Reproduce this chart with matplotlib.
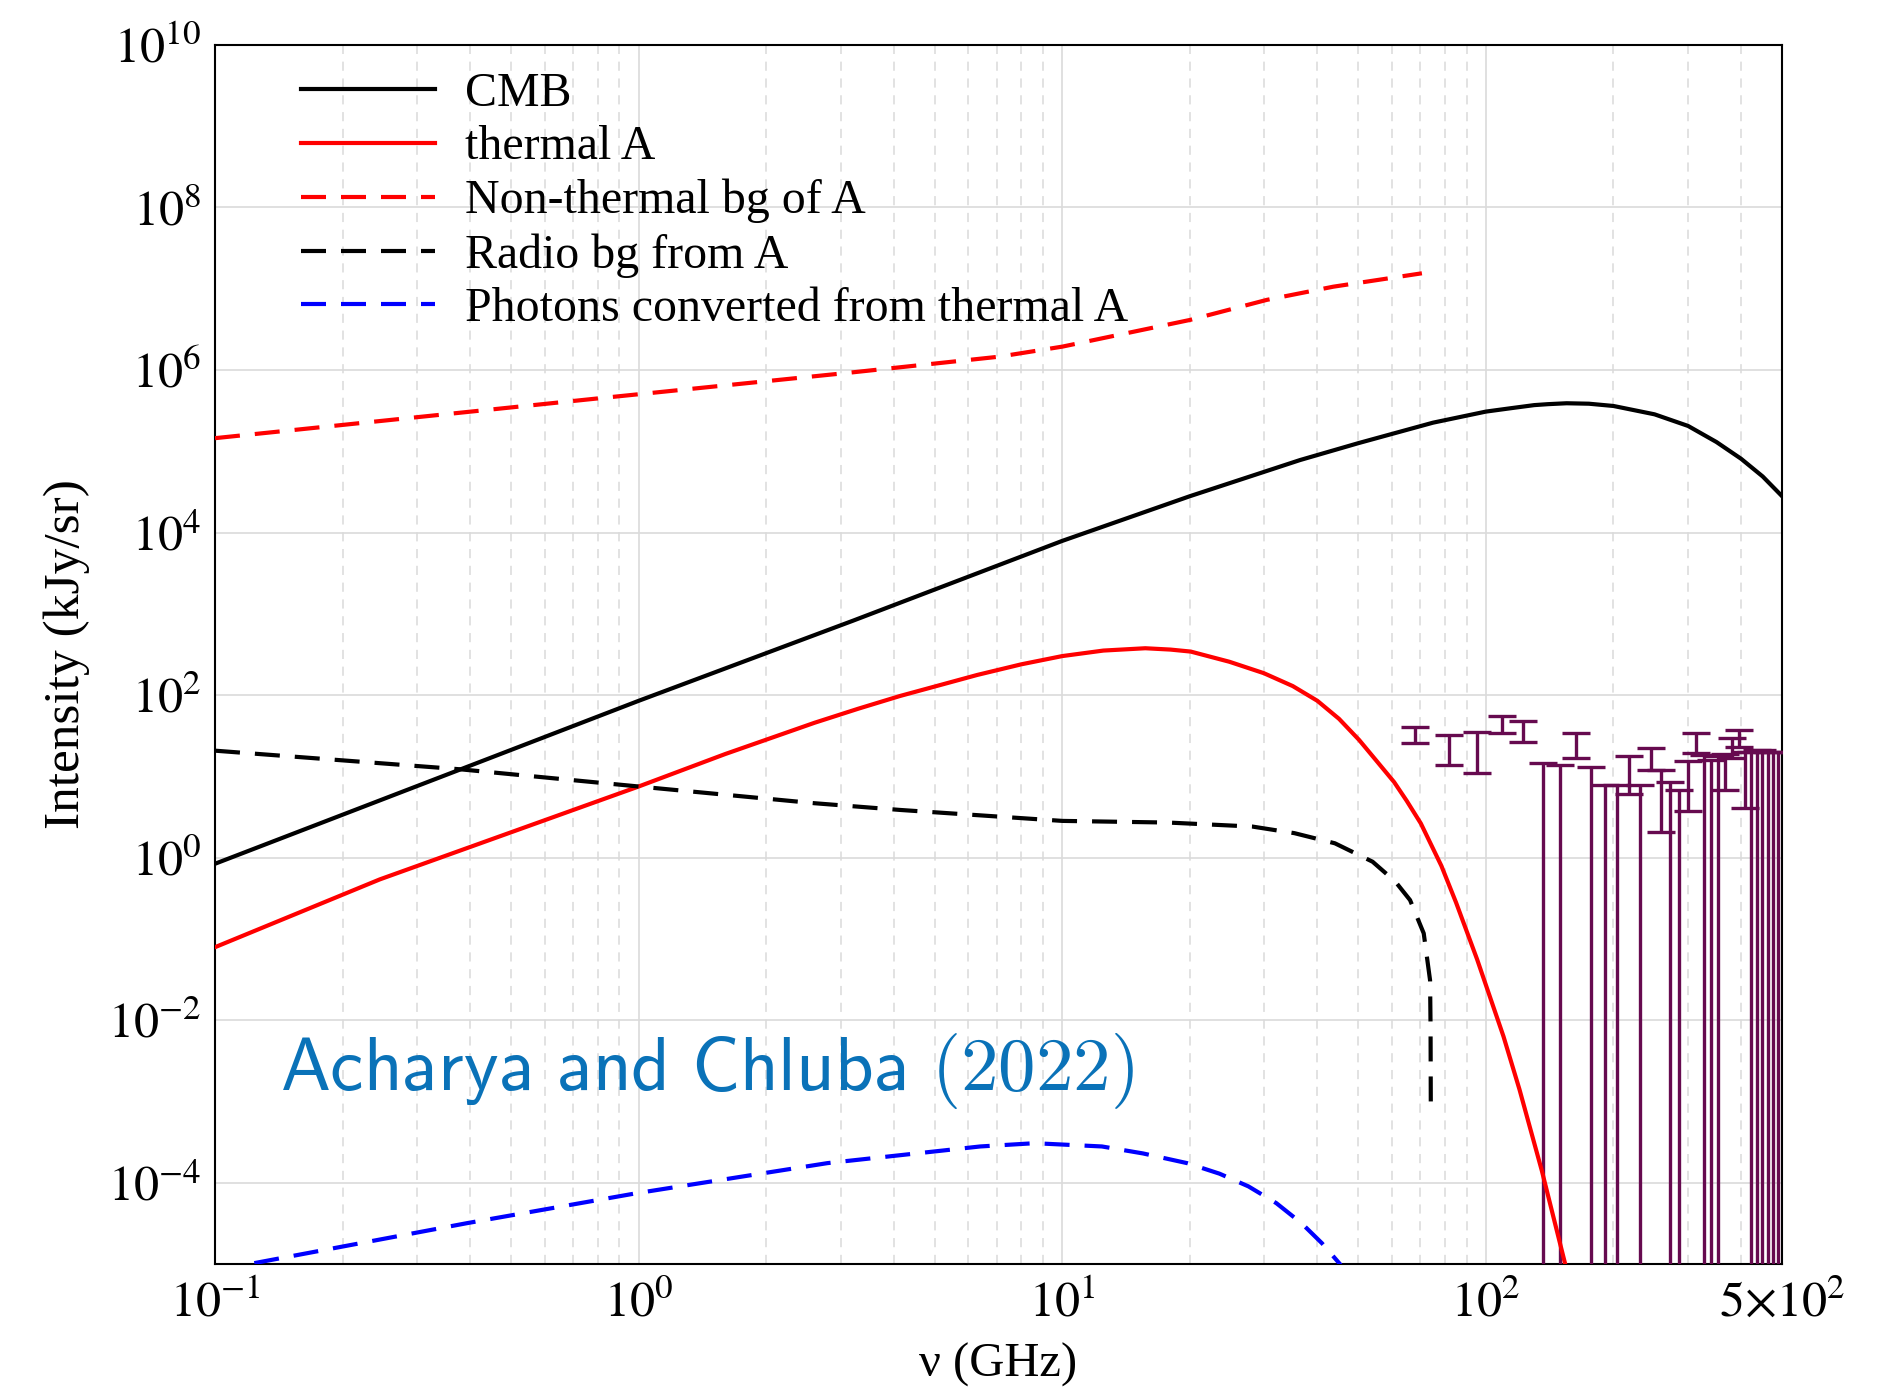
import numpy as np
import matplotlib
matplotlib.use("Agg")
import matplotlib.pyplot as plt
from matplotlib.ticker import FixedLocator, FixedFormatter, NullLocator

# ---- curves (nu in GHz, intensity in kJy/sr) ----
nu_cmb = [0.1, 0.38, 1.0, 3.2, 10, 20, 36.4, 50, 75, 100, 115, 130, 140, 155, 175, 200,
          250, 300, 350, 400, 450, 500]
I_cmb = [0.84, 12.2, 85, 820, 7900, 2.8e4, 7.8e4, 1.26e5, 2.25e5, 3.08e5, 3.4e5, 3.7e5,
         3.8e5, 3.9e5, 3.85e5, 3.61e5, 2.85e5, 2.05e5, 1.3e5, 8.1e4, 4.9e4, 2.8e4]

nu_th = [0.1, 0.245, 1.0, 1.6, 2.6, 3.3, 4.14, 6.3, 8, 10, 12.5, 15.7, 18, 20.1, 24.8,
         29.9, 35, 40, 45, 50.2, 55, 60.7, 65, 70.2, 78.5, 85, 95.3, 110, 120, 135.5,
         153.8, 158.5]
I_th = [0.079, 0.54, 7.5, 18.8, 45.6, 68, 97.5, 177, 239, 302, 353, 377, 363, 343, 257,
        186, 129, 85, 51, 28, 15.8, 8.5, 5.0, 2.63, 0.79, 0.28, 0.056, 6.3e-3, 1.4e-3, 1.4e-4,
        1e-5, 5e-6]

nu_nth = [0.1, 0.81, 3.16, 7.1, 10, 20, 30.4, 43.6, 70.6]
I_nth = [1.45e5, 4.5e5, 9.3e5, 1.46e6, 1.94e6, 4.13e6, 7.3e6, 1.06e7, 1.55e7]

nu_radio = [0.1, 0.38, 1.0, 2.6, 4.14, 10, 17.8, 28.1, 35.3, 44, 54, 61.1, 66.2,
            71.3, 73.8, 74.0, 74.1]
I_radio = [20.7, 12.2, 7.5, 4.67, 3.86, 2.83, 2.70, 2.41, 2.0, 1.50, 0.89, 0.507, 0.30,
           0.117, 0.031, 0.0083, 8.3e-4]

nu_conv = [0.1, 0.394, 0.986, 2.79, 6.4, 8.6, 12.4, 15.5, 19.7, 23.5, 27.5, 32, 36.7,
           41, 45.2, 46.8]
I_conv = [8.3e-6, 3.18e-5, 7.4e-5, 1.74e-4, 2.79e-4, 3.06e-4, 2.79e-4, 2.29e-4, 1.74e-4,
          1.29e-4, 9.0e-5, 5.6e-5, 3.17e-5, 1.8e-5, 1e-5, 7e-6]

# ---- data points with error bars (top / bottom of each bar, 0 = runs off the axis) ----
fir_nu = [68.05, 81.65, 95.26, 108.87, 122.47, 136.08, 149.68, 163.29, 176.9, 190.5,
          204.1, 217.7, 231.3, 244.9, 258.5, 272.2, 285.8, 299.4, 313.0, 326.6,
          340.2, 353.8, 367.4, 381.0, 394.6, 408.2, 421.8, 435.4, 449.0, 462.6,
          476.2, 489.8]
fir_hi = [40.2, 32.4, 34.9, 55.8, 48.5, 14.6, 13.8, 34.4, 12.9, 7.9,
          7.9, 18.0, 7.9, 22.2, 12.0, 8.5, 6.8, 15.5, 34.5, 18.2,
          15.8, 17.8, 19.1, 29.5, 37.2, 20.0, 20.0, 21.0, 21.0, 20.0,
          20.0, 20.0]
fir_lo = [25.6, 13.8, 10.9, 33.9, 26.3, 0, 0, 16.9, 0, 0,
          0, 6.0, 0, 12.0, 2.06, 0, 0, 3.7, 19.3, 0,
          0, 0, 6.8, 16.6, 23.2, 4.06, 0, 0, 0, 0,
          0, 0]

xticks = [0.1, 1, 10, 100, 500]
xticklabels = [r"$10^{-1}$", r"$10^{0}$", r"$10^{1}$", r"$10^{2}$", r"$5{\times}10^{2}$"]
yticks = [1e-4, 1e-2, 1, 1e2, 1e4, 1e6, 1e8, 1e10]
yticklabels = [r"$10^{-4}$", r"$10^{-2}$", r"$10^{0}$", r"$10^{2}$", r"$10^{4}$",
               r"$10^{6}$", r"$10^{8}$", r"$10^{10}$"]

plt.rcParams["font.family"] = ["Liberation Serif", "DejaVu Serif"]
plt.rcParams["mathtext.fontset"] = "stix"

fig = plt.figure(figsize=(18.91, 13.92), dpi=100)
ax = fig.add_axes([0.1137, 0.092, 0.8287, 0.8757])
ax.set_xscale("log")
ax.set_yscale("log")

lw = 3.0
dash = (6, 3.6)

# error bars first so the curves sit on top
hi = np.array(fir_hi)
lo = np.array(fir_lo)
ax.errorbar(fir_nu, hi, yerr=[hi - lo, np.zeros_like(hi)], fmt="none",
            ecolor="#660a4f", elinewidth=2.4, capsize=10, capthick=2.4, zorder=3)

ax.plot(nu_cmb, I_cmb, color="black", lw=lw, label="CMB", zorder=4)
ax.plot(nu_th, I_th, color="red", lw=lw, label="thermal A", zorder=4)
ax.plot(nu_nth, I_nth, color="red", lw=lw, dashes=dash, label="Non-thermal bg of A", zorder=4)
ax.plot(nu_radio, I_radio, color="black", lw=lw, dashes=dash, label="Radio bg from A", zorder=4)
ax.plot(nu_conv, I_conv, color="blue", lw=lw, dashes=dash,
        label="Photons converted from thermal A", zorder=4)

ax.set_xlim(0.1, 500)
ax.set_ylim(1e-5, 1e10)

ax.xaxis.set_major_locator(FixedLocator(xticks))
ax.xaxis.set_major_formatter(FixedFormatter(xticklabels))
ax.yaxis.set_major_locator(FixedLocator(yticks))
ax.yaxis.set_major_formatter(FixedFormatter(yticklabels))
ax.yaxis.set_minor_locator(NullLocator())
ax.tick_params(which="both", length=0)
ax.tick_params(axis="x", labelsize=36, pad=12)
ax.tick_params(axis="y", labelsize=36, pad=10)

ax.grid(True, which="major", axis="both", color="#dadada", lw=1.2, ls="-", zorder=0)
ax.grid(True, which="minor", axis="x", color="#dadada", lw=1.1, ls=(0, (6, 5)), zorder=0)
ax.set_axisbelow(True)

for s in ax.spines.values():
    s.set_linewidth(1.5)
    s.set_color("black")

ax.set_xlabel("ν (GHz)", fontsize=35, va="baseline")
ax.set_ylabel("Intensity (kJy/sr)", fontsize=37)
ax.xaxis.set_label_coords(0.5, -0.0927)
ax.yaxis.set_label_coords(-0.08, 0.5)

ax.legend(loc="upper left", bbox_to_anchor=(0.055, 0.978), frameon=False, fontsize=34.5,
          handlelength=2.8, handletextpad=0.62, labelspacing=0.2, borderpad=0,
          borderaxespad=0)

ax.text(0.0415, 0.158, r"$\mathsf{Acharya\ and\ Chluba\ (2022)}$", math_fontfamily="cm",
        fontsize=54, color="#0a72b8", va="center", ha="left", transform=ax.transAxes)

fig.savefig("out.png", dpi=100)
